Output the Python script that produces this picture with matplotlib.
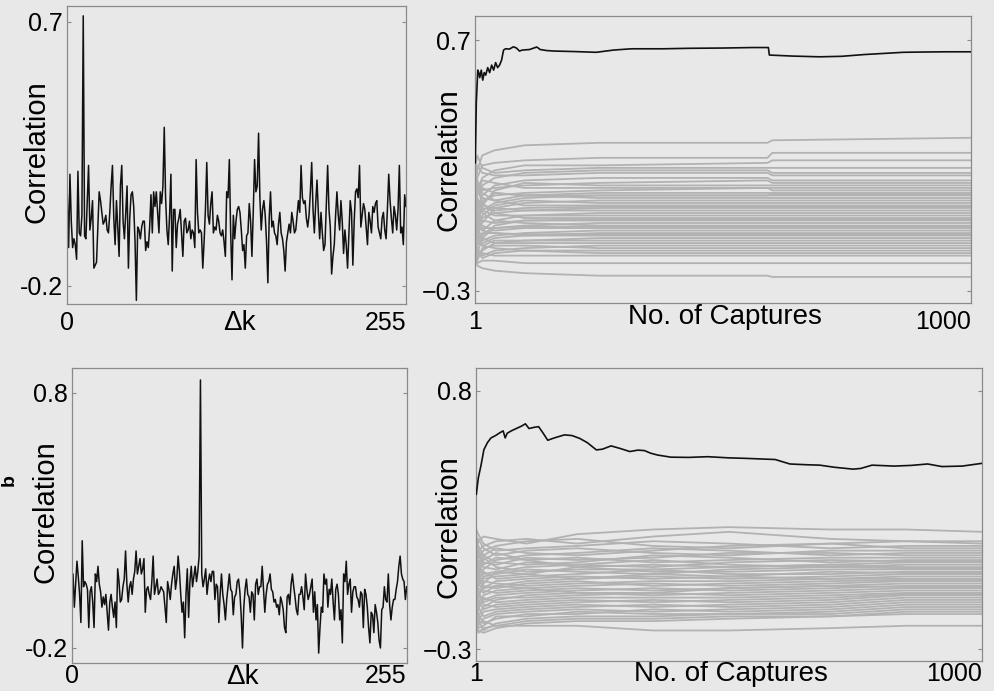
import numpy as np
import matplotlib
matplotlib.use("Agg")
import matplotlib.pyplot as plt

plt.rcParams['font.family'] = ['Liberation Sans', 'DejaVu Sans']

# ---- correlation vs. key offset (left column) ----
dk = np.arange(256)

corr_dk_top = [
    0.11, -0.07, 0.18, 0.02, -0.07, -0.04, -0.06, -0.11, 0.19, -0.02, -0.03, 0.04, 0.72, -0.03, -0.04, 0.08,
    0.21, -0.01, 0.03, 0.09, -0.14, -0.13, -0.12, 0.00, 0.12, 0.09, 0.05, 0.01, 0.02, 0.04, -0.01, -0.02,
    0.05, 0.14, 0.21, 0.03, -0.06, 0.09, 0.00, -0.10, 0.14, 0.21, 0.02, -0.04, 0.05, 0.14, -0.14, 0.03,
    0.11, 0.12, 0.07, -0.05, -0.25, 0.00, -0.01, -0.04, 0.00, 0.02, 0.02, -0.08, -0.05, -0.07, 0.00, 0.11,
    -0.02, 0.12, 0.07, 0.12, 0.05, -0.02, 0.12, 0.08, 0.14, 0.34, 0.10, -0.01, -0.06, 0.04, 0.18, -0.15,
    0.06, 0.06, -0.07, 0.01, 0.03, 0.06, -0.02, -0.10, 0.02, 0.03, -0.02, -0.01, 0.02, -0.04, -0.01, -0.02,
    -0.07, 0.23, 0.05, -0.02, -0.01, -0.02, -0.14, -0.05, 0.06, 0.22, 0.04, 0.01, 0.08, 0.12, -0.02, 0.00,
    -0.01, 0.04, 0.02, -0.02, -0.03, -0.01, -0.05, -0.10, 0.12, 0.10, 0.23, -0.02, -0.18, 0.04, -0.04, 0.02,
    0.06, 0.07, 0.05, -0.01, -0.08, -0.06, -0.14, -0.03, -0.02, 0.08, 0.02, -0.10, 0.05, 0.23, 0.12, 0.14,
    0.32, 0.10, -0.01, 0.06, 0.09, 0.04, -0.05, -0.19, 0.03, 0.12, 0.00, 0.02, -0.02, -0.03, -0.06, 0.01,
    0.05, -0.02, -0.04, -0.08, -0.15, -0.05, -0.02, 0.01, -0.02, 0.05, 0.02, -0.02, -0.01, 0.04, 0.09, 0.05,
    0.21, 0.10, 0.08, 0.09, 0.03, 0.00, 0.04, 0.12, 0.22, 0.06, -0.02, 0.08, 0.16, 0.05, -0.04, 0.05,
    -0.02, -0.08, -0.06, 0.08, 0.21, 0.06, 0.00, -0.16, -0.10, -0.06, 0.04, 0.12, 0.04, -0.01, 0.09, 0.02,
    -0.09, -0.01, -0.06, -0.14, -0.02, 0.09, 0.05, -0.13, 0.02, 0.12, 0.13, 0.10, 0.21, 0.00, 0.04, 0.08,
    0.06, 0.00, -0.06, 0.05, 0.02, -0.02, 0.07, 0.05, 0.08, 0.09, 0.00, -0.02, -0.04, 0.03, 0.05, -0.01,
    -0.04, 0.06, 0.18, 0.09, 0.03, -0.02, 0.07, 0.04, -0.01, 0.06, 0.21, -0.02, 0.00, -0.06, 0.11, 0.07,
]

corr_dk_bottom = [
    0.07, 0.09, -0.04, 0.05, 0.14, 0.08, 0.01, -0.10, 0.22, 0.04, 0.06, 0.05, 0.03, -0.12, 0.02, 0.04,
    -0.02, -0.12, 0.09, 0.06, 0.12, 0.05, 0.02, -0.04, 0.00, -0.03, 0.01, -0.06, -0.13, -0.02, 0.01, -0.04,
    -0.08, -0.02, -0.12, 0.11, 0.06, -0.02, -0.01, 0.04, 0.07, 0.18, 0.05, -0.02, 0.04, 0.06, 0.01, 0.07,
    0.10, 0.18, 0.09, 0.12, 0.15, 0.09, 0.11, 0.15, -0.06, 0.03, 0.04, 0.01, -0.01, 0.06, 0.16, 0.01,
    0.04, 0.07, 0.01, 0.02, 0.04, 0.03, 0.02, -0.04, -0.10, 0.06, 0.03, -0.01, 0.05, 0.09, 0.12, 0.03,
    0.07, 0.16, 0.10, 0.01, -0.06, -0.02, -0.16, 0.01, 0.11, -0.08, 0.06, 0.12, 0.04, 0.08, 0.12, 0.06,
    0.10, 0.16, 0.85, 0.09, 0.04, 0.07, 0.11, 0.01, 0.06, 0.09, 0.06, 0.10, 0.10, -0.01, 0.05, 0.04,
    -0.10, 0.01, 0.09, 0.01, -0.03, -0.09, -0.01, 0.04, 0.09, 0.03, 0.02, -0.07, 0.00, 0.01, 0.06, 0.07,
    0.02, -0.07, -0.20, -0.04, 0.03, 0.07, 0.01, 0.00, -0.06, 0.02, 0.01, -0.09, 0.05, 0.07, 0.01, 0.04,
    0.04, 0.12, 0.03, -0.06, 0.01, 0.05, 0.06, 0.09, 0.03, 0.02, -0.02, -0.01, -0.04, -0.03, -0.07, 0.00,
    -0.02, -0.05, -0.12, -0.14, 0.00, 0.01, -0.03, 0.05, 0.09, 0.04, 0.00, -0.05, -0.07, 0.01, 0.01, 0.04,
    0.00, -0.05, 0.09, 0.03, -0.01, 0.01, 0.04, 0.07, -0.06, 0.02, -0.09, -0.03, -0.22, -0.12, -0.04, -0.06,
    0.09, 0.05, 0.07, -0.04, 0.03, 0.01, 0.07, -0.02, -0.09, 0.03, 0.05, 0.01, -0.09, -0.05, -0.18, 0.09,
    0.06, 0.14, 0.01, 0.05, 0.07, -0.06, 0.02, 0.04, 0.04, 0.00, -0.01, -0.04, 0.02, 0.01, -0.12, 0.03,
    0.01, -0.04, -0.12, -0.18, -0.06, -0.07, -0.14, -0.03, -0.06, -0.10, -0.17, -0.20, -0.05, -0.04, 0.04, -0.01,
    -0.02, 0.09, -0.03, -0.09, -0.04, -0.01, -0.01, 0.03, 0.06, 0.12, 0.16, 0.09, 0.07, 0.06, -0.01, 0.04,
]

# ---- correlation vs. number of captures (right column) ----
# correct key guess (black)
cap_top_key = [1, 3, 6, 8, 10, 13, 16, 19, 22, 26, 30, 34, 38, 42, 46, 50, 54, 58, 62, 70, 78, 84, 90, 96,
               110, 125, 132, 145, 160, 200, 245, 280, 316, 380, 433, 500, 560, 592, 594, 640, 695, 740,
               785, 864, 900, 950, 1000]
corr_top_key = [0.21, 0.45, 0.58, 0.57, 0.55, 0.58, 0.54, 0.57, 0.56, 0.59, 0.57, 0.60, 0.58, 0.61, 0.59,
                0.60, 0.62, 0.66, 0.665, 0.664, 0.673, 0.668, 0.656, 0.660, 0.662, 0.672, 0.662, 0.658,
                0.656, 0.654, 0.651, 0.660, 0.665, 0.665, 0.667, 0.668, 0.670, 0.670, 0.640, 0.636, 0.633,
                0.635, 0.642, 0.651, 0.652, 0.653, 0.653]

cap_bottom_key = [1, 5, 10, 16, 23, 30, 39, 46, 54, 58, 62, 70, 80, 90, 98, 105, 115, 124, 133, 142, 155,
                  175, 190, 205, 220, 238, 250, 267, 285, 304, 320, 333, 345, 359, 385, 420, 458, 500, 532,
                  591, 620, 650, 679, 708, 745, 760, 782, 826, 860, 892, 920, 960, 1000]
corr_bottom_key = [0.36, 0.43, 0.48, 0.55, 0.58, 0.60, 0.61, 0.62, 0.63, 0.60, 0.62, 0.63, 0.64, 0.65,
                   0.66, 0.64, 0.645, 0.648, 0.62, 0.59, 0.60, 0.613, 0.61, 0.598, 0.58, 0.549, 0.552,
                   0.566, 0.555, 0.542, 0.548, 0.546, 0.535, 0.527, 0.518, 0.517, 0.520, 0.515, 0.513,
                   0.508, 0.489, 0.486, 0.484, 0.475, 0.467, 0.470, 0.484, 0.480, 0.483, 0.489, 0.478,
                   0.480, 0.492]

# wrong key guesses (grey), one row per guess
cap_top_wrong = [1, 5, 15, 40, 100, 250, 590, 600, 1000]
corr_top_wrong = [
    [0.12, 0.18, 0.24, 0.26, 0.28, 0.29, 0.29, 0.30, 0.31],
    [0.05, 0.15, 0.20, 0.21, 0.22, 0.23, 0.23, 0.25, 0.25],
    [0.18, 0.10, 0.15, 0.18, 0.20, 0.20, 0.21, 0.22, 0.22],
    [0.20, 0.24, 0.19, 0.17, 0.18, 0.19, 0.19, 0.19, 0.19],
    [-0.02, 0.08, 0.12, 0.15, 0.17, 0.18, 0.18, 0.17, 0.17],
    [0.15, 0.20, 0.17, 0.16, 0.16, 0.17, 0.17, 0.16, 0.16],
    [0.10, 0.02, 0.08, 0.12, 0.14, 0.15, 0.15, 0.14, 0.14],
    [0.21, 0.14, 0.10, 0.11, 0.12, 0.13, 0.14, 0.13, 0.13],
    [0.02, -0.05, 0.04, 0.10, 0.13, 0.12, 0.12, 0.12, 0.12],
    [0.14, 0.09, 0.14, 0.13, 0.11, 0.11, 0.11, 0.11, 0.11],
    [-0.06, 0.04, 0.06, 0.08, 0.09, 0.10, 0.11, 0.10, 0.10],
    [0.08, 0.12, 0.07, 0.06, 0.08, 0.09, 0.09, 0.09, 0.09],
    [0.16, 0.05, 0.02, 0.05, 0.07, 0.08, 0.08, 0.085, 0.085],
    [-0.10, -0.02, 0.05, 0.09, 0.08, 0.08, 0.08, 0.08, 0.08],
    [0.04, 0.10, 0.11, 0.09, 0.08, 0.07, 0.07, 0.07, 0.07],
    [0.11, 0.00, -0.03, 0.03, 0.05, 0.06, 0.06, 0.06, 0.06],
    [-0.04, -0.09, 0.00, 0.04, 0.06, 0.05, 0.05, 0.05, 0.05],
    [0.07, 0.13, 0.09, 0.06, 0.04, 0.04, 0.04, 0.04, 0.04],
    [0.00, 0.06, 0.03, 0.02, 0.03, 0.035, 0.035, 0.035, 0.035],
    [-0.12, -0.06, -0.01, 0.01, 0.02, 0.03, 0.03, 0.03, 0.03],
    [0.13, 0.07, 0.04, 0.03, 0.02, 0.02, 0.02, 0.02, 0.02],
    [0.03, -0.04, -0.06, -0.02, 0.00, 0.01, 0.01, 0.01, 0.01],
    [-0.08, 0.01, 0.02, 0.00, 0.00, 0.00, 0.00, 0.00, 0.00],
    [0.09, 0.11, 0.05, 0.01, -0.01, -0.01, -0.01, -0.01, -0.01],
    [-0.03, -0.10, -0.08, -0.04, -0.02, -0.015, -0.015, -0.015, -0.015],
    [0.06, 0.03, -0.02, -0.03, -0.02, -0.02, -0.02, -0.02, -0.02],
    [-0.11, -0.15, -0.09, -0.05, -0.04, -0.03, -0.03, -0.03, -0.03],
    [0.01, 0.05, 0.01, -0.02, -0.03, -0.04, -0.04, -0.04, -0.04],
    [-0.05, -0.03, -0.05, -0.05, -0.045, -0.045, -0.045, -0.045, -0.045],
    [0.10, -0.01, -0.04, -0.06, -0.05, -0.05, -0.05, -0.05, -0.05],
    [-0.13, -0.07, -0.10, -0.08, -0.07, -0.06, -0.06, -0.06, -0.06],
    [0.04, -0.08, -0.11, -0.09, -0.08, -0.07, -0.07, -0.07, -0.07],
    [-0.07, -0.12, -0.07, -0.07, -0.075, -0.075, -0.075, -0.075, -0.075],
    [0.08, -0.04, -0.06, -0.07, -0.08, -0.08, -0.08, -0.08, -0.08],
    [-0.09, -0.17, -0.14, -0.11, -0.10, -0.09, -0.09, -0.09, -0.09],
    [-0.01, -0.11, -0.12, -0.10, -0.10, -0.10, -0.10, -0.10, -0.10],
    [-0.12, -0.05, -0.09, -0.11, -0.11, -0.11, -0.11, -0.11, -0.11],
    [0.02, -0.13, -0.16, -0.14, -0.13, -0.12, -0.12, -0.12, -0.12],
    [-0.10, -0.18, -0.13, -0.12, -0.12, -0.13, -0.13, -0.13, -0.13],
    [-0.06, -0.14, -0.17, -0.15, -0.14, -0.14, -0.14, -0.14, -0.14],
    [-0.13, -0.09, -0.12, -0.13, -0.14, -0.15, -0.15, -0.15, -0.15],
    [-0.08, -0.16, -0.15, -0.16, -0.16, -0.16, -0.16, -0.16, -0.16],
    [-0.11, -0.19, -0.18, -0.18, -0.19, -0.19, -0.19, -0.19, -0.19],
    [-0.12, -0.20, -0.21, -0.22, -0.23, -0.24, -0.24, -0.245, -0.245],
]

cap_bottom_wrong = [1, 5, 15, 40, 100, 200, 350, 500, 700, 850, 1000]
corr_bottom_wrong = [
    [0.10, 0.16, 0.18, 0.17, 0.15, 0.19, 0.21, 0.22, 0.21, 0.21, 0.20],
    [0.18, 0.12, 0.14, 0.16, 0.17, 0.15, 0.18, 0.20, 0.17, 0.16, 0.16],
    [0.02, 0.09, 0.12, 0.14, 0.16, 0.17, 0.14, 0.13, 0.15, 0.16, 0.15],
    [0.21, 0.19, 0.15, 0.12, 0.13, 0.14, 0.16, 0.15, 0.13, 0.14, 0.14],
    [-0.05, 0.05, 0.10, 0.13, 0.11, 0.10, 0.12, 0.14, 0.15, 0.13, 0.13],
    [0.14, 0.17, 0.13, 0.10, 0.12, 0.13, 0.11, 0.10, 0.12, 0.12, 0.12],
    [0.06, -0.01, 0.04, 0.08, 0.10, 0.11, 0.13, 0.12, 0.10, 0.11, 0.11],
    [0.16, 0.11, 0.07, 0.06, 0.09, 0.08, 0.09, 0.11, 0.11, 0.10, 0.10],
    [-0.10, 0.02, 0.08, 0.11, 0.08, 0.09, 0.07, 0.08, 0.09, 0.09, 0.09],
    [0.12, 0.14, 0.10, 0.07, 0.06, 0.07, 0.10, 0.09, 0.07, 0.08, 0.08],
    [0.04, 0.08, 0.05, 0.04, 0.07, 0.06, 0.05, 0.07, 0.08, 0.075, 0.075],
    [0.19, 0.10, 0.06, 0.09, 0.08, 0.05, 0.06, 0.05, 0.06, 0.07, 0.07],
    [-0.02, -0.08, -0.02, 0.03, 0.05, 0.06, 0.08, 0.06, 0.05, 0.06, 0.06],
    [0.08, 0.12, 0.09, 0.05, 0.03, 0.04, 0.04, 0.05, 0.06, 0.05, 0.05],
    [-0.08, -0.03, 0.01, 0.02, 0.04, 0.03, 0.02, 0.04, 0.05, 0.045, 0.045],
    [0.11, 0.06, 0.00, 0.01, 0.02, 0.05, 0.03, 0.03, 0.04, 0.04, 0.04],
    [0.00, 0.04, 0.03, 0.00, 0.01, 0.02, 0.04, 0.02, 0.02, 0.03, 0.03],
    [-0.13, -0.06, -0.04, -0.01, 0.00, 0.01, 0.00, 0.01, 0.03, 0.025, 0.025],
    [0.15, 0.07, 0.02, 0.03, 0.02, 0.00, 0.01, 0.00, 0.01, 0.02, 0.02],
    [0.05, -0.04, -0.06, -0.03, -0.01, 0.00, 0.02, 0.01, 0.00, 0.01, 0.01],
    [-0.06, 0.01, -0.01, -0.02, -0.03, -0.02, -0.01, -0.01, 0.00, 0.00, 0.00],
    [0.09, 0.03, -0.03, -0.04, -0.02, -0.01, -0.03, -0.02, -0.01, -0.005, -0.005],
    [-0.15, -0.10, -0.07, -0.05, -0.04, -0.03, -0.02, -0.03, -0.02, -0.01, -0.01],
    [0.03, -0.02, -0.05, -0.06, -0.05, -0.04, -0.05, -0.04, -0.03, -0.02, -0.02],
    [-0.04, -0.11, -0.09, -0.07, -0.06, -0.05, -0.04, -0.05, -0.04, -0.03, -0.03],
    [0.07, 0.00, -0.04, -0.03, -0.04, -0.06, -0.06, -0.04, -0.03, -0.035, -0.035],
    [-0.11, -0.16, -0.12, -0.09, -0.07, -0.06, -0.07, -0.06, -0.05, -0.04, -0.04],
    [-0.01, -0.07, -0.10, -0.08, -0.08, -0.07, -0.06, -0.07, -0.06, -0.05, -0.05],
    [-0.17, -0.13, -0.08, -0.10, -0.09, -0.08, -0.08, -0.08, -0.07, -0.06, -0.06],
    [0.01, -0.09, -0.13, -0.11, -0.10, -0.09, -0.10, -0.09, -0.08, -0.065, -0.065],
    [-0.09, -0.05, -0.11, -0.12, -0.11, -0.10, -0.09, -0.10, -0.09, -0.07, -0.07],
    [-0.20, -0.18, -0.14, -0.13, -0.12, -0.11, -0.12, -0.11, -0.10, -0.08, -0.08],
    [-0.03, -0.12, -0.16, -0.14, -0.13, -0.12, -0.11, -0.12, -0.11, -0.09, -0.09],
    [-0.14, -0.20, -0.17, -0.15, -0.14, -0.13, -0.14, -0.13, -0.12, -0.10, -0.10],
    [-0.07, -0.15, -0.19, -0.17, -0.15, -0.15, -0.13, -0.14, -0.13, -0.11, -0.11],
    [-0.18, -0.21, -0.20, -0.16, -0.16, -0.14, -0.15, -0.15, -0.14, -0.12, -0.12],
    [-0.12, -0.17, -0.22, -0.19, -0.17, -0.16, -0.16, -0.15, -0.15, -0.13, -0.13],
    [-0.21, -0.19, -0.18, -0.20, -0.18, -0.17, -0.17, -0.16, -0.16, -0.14, -0.14],
    [-0.16, -0.22, -0.23, -0.21, -0.19, -0.18, -0.18, -0.17, -0.16, -0.15, -0.15],
    [-0.19, -0.23, -0.21, -0.20, -0.20, -0.20, -0.22, -0.22, -0.21, -0.20, -0.20],
]

# tick labels
yticks_tl, ylabels_tl = [-0.2, 0.7], ['-0.2', '0.7']
yticks_tr, ylabels_tr = [-0.3, 0.7], ['\u22120.3', '0.7']
yticks_bl, ylabels_bl = [-0.2, 0.8], ['-0.2', '0.8']
yticks_br, ylabels_br = [-0.3, 0.8], ['\u22120.3', '0.8']

BG = '#e8e8e8'
SPINE = '#8a8a8a'
GREY = '#b2b2b2'
W, H = 994, 691


def style_axes(ax, yticks, ylabels, xticks, xlabels, xpad):
    ax.set_facecolor(BG)
    for s in ax.spines.values():
        s.set_color(SPINE)
        s.set_linewidth(0.9)
    ax.set_yticks(yticks)
    ax.set_yticklabels(ylabels)
    ax.set_xticks(xticks)
    ax.set_xticklabels(xlabels)
    ax.tick_params(axis='y', direction='in', length=3, width=0.8, color=SPINE,
                   right=True, labelsize=18, pad=3)
    ax.tick_params(axis='x', direction='in', length=0, labelsize=18, pad=xpad)
    ax.get_xticklabels()[-1].set_horizontalalignment('right')


def add_axes(left, top, right, bottom):
    # pixel box -> figure fraction
    return fig.add_axes([left / W, 1 - bottom / H, (right - left) / W, (bottom - top) / H])


fig = plt.figure(figsize=(W / 100, H / 100), dpi=100, facecolor=BG)

# top left
ax = add_axes(67.3, 6, 406, 304.3)
ax.plot(dk, corr_dk_top, color='#111111', lw=1.1)
ax.set_xlim(0, 255)
ax.set_ylim(-0.2634, 0.7535)
style_axes(ax, yticks_tl, ylabels_tl, [0, 255], ['0', '255'], 5)

# top right
ax = add_axes(475.3, 15.7, 970.7, 303)
for row in corr_top_wrong:
    ax.plot(cap_top_wrong, row, color=GREY, lw=1.3, zorder=1)
ax.plot(cap_top_key, corr_top_key, color='#111111', lw=1.2, zorder=3)
ax.set_xlim(1, 1000)
ax.set_ylim(-0.349, 0.797)
style_axes(ax, yticks_tr, ylabels_tr, [1, 1000], ['1', '1000'], 5)

# bottom left
ax = add_axes(71.7, 367.7, 406.7, 662.7)
ax.plot(dk, corr_dk_bottom, color='#111111', lw=1.1)
ax.set_xlim(0, 255)
ax.set_ylim(-0.2576, 0.898)
style_axes(ax, yticks_bl, ylabels_bl, [0, 255], ['0', '255'], 1)

# bottom right
ax = add_axes(476.3, 367.7, 982.4, 661)
for row in corr_bottom_wrong:
    ax.plot(cap_bottom_wrong, row, color=GREY, lw=1.3, zorder=1)
ax.plot(cap_bottom_key, corr_bottom_key, color='#111111', lw=1.2, zorder=3)
ax.set_xlim(1, 1000)
ax.set_ylim(-0.35, 0.899)
style_axes(ax, yticks_br, ylabels_br, [1, 1000], ['1', '1000'], 1)

# axis titles
for x, y in [(37, 152), (448, 160), (45.5, 511.5), (448, 526.7)]:
    fig.text(x / W, 1 - y / H, 'Correlation', rotation=90, ha='center', va='center', fontsize=21)
for x, y in [(239, 330), (242, 684)]:
    fig.text(x / W, 1 - y / H, '\u0394k', ha='center', va='baseline', fontsize=20)
for x, y in [(725, 324), (731, 681)]:
    fig.text(x / W, 1 - y / H, 'No. of Captures', ha='center', va='baseline', fontsize=20)

# panel letter at the left edge
fig.text(1 / W, 1 - 480 / H, 'b', rotation=90, ha='left', va='center',
         fontsize=14, fontweight='bold')

fig.savefig('out.png', dpi=100, facecolor=BG)
